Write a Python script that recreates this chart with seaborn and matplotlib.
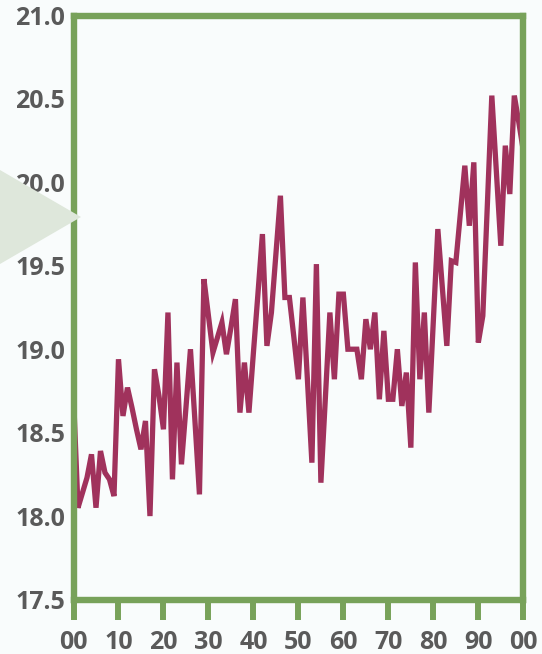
import matplotlib
matplotlib.use("Agg")
import matplotlib.pyplot as plt
from matplotlib.patches import Polygon
import seaborn as sns
import pandas as pd

years = list(range(0, 101))
temps = [
    18.72, 18.05, 18.14, 18.23, 18.37, 18.05, 18.39, 18.26, 18.22, 18.12,
    18.94, 18.60, 18.77, 18.65, 18.52, 18.40, 18.57, 18.00, 18.88, 18.72,
    18.52, 19.22, 18.22, 18.92, 18.31, 18.65, 19.00, 18.57, 18.13, 19.42,
    19.20, 18.98, 19.07, 19.16, 18.97, 19.13, 19.30, 18.62, 18.92, 18.62,
    18.98, 19.33, 19.69, 19.02, 19.22, 19.57, 19.92, 19.31, 19.31, 19.07,
    18.82, 19.31, 18.82, 18.32, 19.51, 18.20, 18.71, 19.22, 18.82, 19.33,
    19.33, 19.00, 19.00, 19.00, 18.82, 19.18, 19.00, 19.22, 18.70, 19.11,
    18.70, 18.70, 19.00, 18.66, 18.86, 18.41, 19.52, 18.82, 19.22, 18.62,
    19.17, 19.72, 19.37, 19.02, 19.53, 19.52, 19.81, 20.10, 19.74, 20.12,
    19.04, 19.20, 19.86, 20.52, 20.07, 19.62, 20.22, 19.93, 20.52, 20.36,
    20.19,
]
x_ticks = list(range(0, 101, 10))
x_tick_labels = ["00", "10", "20", "30", "40", "50", "60", "70", "80", "90", "00"]
y_ticks = [17.5, 18.0, 18.5, 19.0, 19.5, 20.0, 20.5, 21.0]

df = pd.DataFrame({"year": years, "temp": temps})

sns.set_style("white")
plt.rcParams["font.family"] = ["Open Sans", "DejaVu Sans"]

BG = "#f9fcfc"
GREEN = "#78a25a"
LINE = "#a0325c"
TEXT = "#5a5a5a"

fig = plt.figure(figsize=(5.42, 6.54), dpi=100, facecolor=BG)

# decorative arrow-shaped wedge on the left
tri = Polygon([(0, 1 - 170 / 654), (81 / 542, 1 - 217 / 654), (0, 1 - 264 / 654)],
              closed=True, transform=fig.transFigure, facecolor="#dee7db",
              edgecolor="none", zorder=0)
fig.patches.append(tri)

ax = fig.add_axes([73.5 / 542, 54.5 / 654, (523.3 - 73.5) / 542, (638.5 - 54.5) / 654])
ax.set_facecolor(BG)

sns.lineplot(data=df, x="year", y="temp", ax=ax, color=LINE, linewidth=3.8,
             solid_joinstyle="miter", zorder=2)

ax.set_xlim(0, 100)
ax.set_ylim(17.5, 21.0)
ax.set_xticks(x_ticks)
ax.set_xticklabels(x_tick_labels)
ax.set_yticks(y_ticks)
ax.set_yticklabels([f"{v:.1f}" for v in y_ticks])
ax.set_xlabel("")
ax.set_ylabel("")

for s in ax.spines.values():
    s.set_visible(True)
    s.set_color(GREEN)
    s.set_linewidth(4.6)
    s.set_capstyle("projecting")
    s.set_zorder(3)

ax.tick_params(axis="x", direction="out", length=14.5, width=4.3, color=GREEN,
               pad=7.5, labelsize=18, labelcolor=TEXT, bottom=True)
ax.tick_params(axis="y", length=0, pad=6, labelsize=18, labelcolor=TEXT, left=True)
for lab in ax.get_xticklabels() + ax.get_yticklabels():
    lab.set_fontweight("bold")

fig.savefig("out.png", dpi=100, facecolor=BG)
